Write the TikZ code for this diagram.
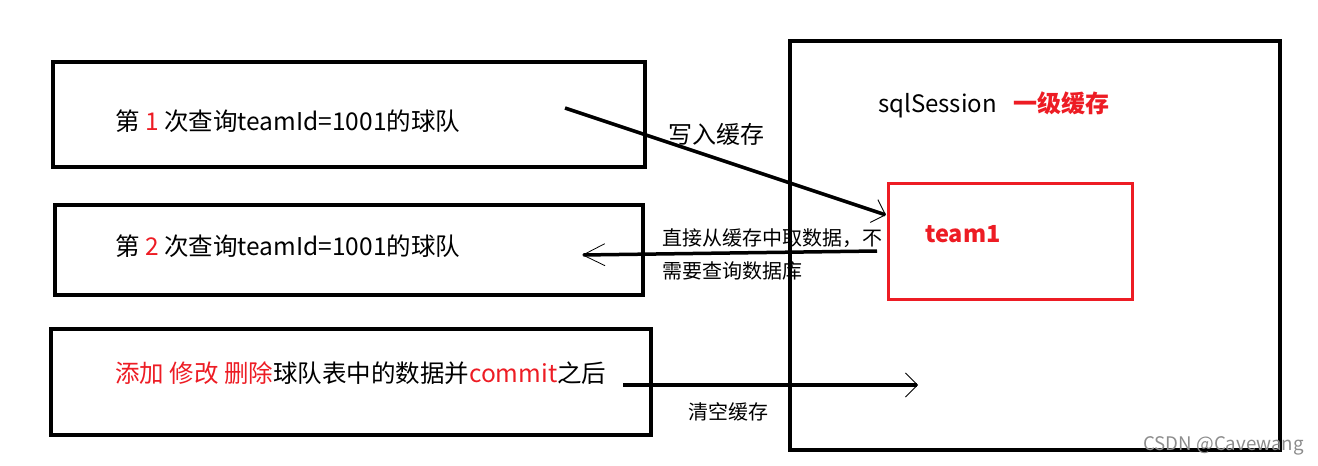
\documentclass[tikz,border=0pt]{standalone}
\usepackage{fontspec}
\setmainfont{Noto Sans CJK SC}
\usetikzlibrary{arrows.meta}
\definecolor{hotred}{HTML}{ED1C24}

\tikzset{
    box/.style={draw=black, line width=3.5pt, inner sep=0pt},
    cachebox/.style={draw=hotred, line width=3pt, inner sep=0pt},
    bigtext/.style={anchor=west, inner sep=0pt, font=\fontsize{24.5}{28}\selectfont},
    smalltext/.style={anchor=west, inner sep=0pt, font=\fontsize{20}{24}\selectfont},
    sketcharrow/.style={line width=3.5pt, -{Straight Barb[length=12pt, width=24pt, line width=0.8pt]}}
}

\begin{document}
\begin{tikzpicture}[x=1pt, y=-1pt]
    \useasboundingbox (0,0) rectangle (1318,466);

    % the three queries
    \node[box, minimum width=592pt, minimum height=105pt] (query1) at (349,114.5) {};
    \node[box, minimum width=588pt, minimum height=90pt] (query2) at (349,250) {};
    \node[box, minimum width=600pt, minimum height=106pt] (change) at (351,382) {};

    \node[bigtext] (q1text) at (115,121) {第 \textcolor{hotred}{1} 次查询teamId=1001的球队};
    \node[bigtext] (q2text) at (115,246) {第 \textcolor{hotred}{2} 次查询teamId=1001的球队};
    \node[bigtext] (chtext) at (115,373) {\textcolor{hotred}{添加 修改 删除}球队表中的数据并\textcolor{hotred}{commit}之后};

    % session and its cache
    \node[box, minimum width=490pt, minimum height=409pt] (session) at (1035,245.5) {};
    \node[cachebox, minimum width=244pt, minimum height=116pt] (team) at (1010,241) {};

    \node[bigtext, font=\fontsize{24}{28}\selectfont] (sesstext) at (878,105) {sqlSession\hspace{17pt}\textcolor{hotred}{\bfseries 一级缓存}};
    \node[bigtext, text=hotred, font=\fontsize{23.5}{27}\selectfont\bfseries] (teamtext) at (925,234) {team1};

    % connectors
    \coordinate (w1) at (565,108);
    \coordinate (w2) at (886,215);
    \coordinate (r1) at (877,251);
    \coordinate (r2) at (582,255);
    \coordinate (c1) at (623,385);
    \coordinate (c2) at (918,385);

    \draw[sketcharrow] (w1) -- (w2);
    \draw[sketcharrow, -{Straight Barb[length=22pt, width=22pt, line width=0.8pt]}] (r1) -- (r2);
    \draw[sketcharrow] (c1) -- (c2);

    \node[bigtext, font=\fontsize{24}{28}\selectfont] (writelabel) at (668,134) {写入缓存};
    \node[smalltext] (readlabel1) at (662,238) {直接从缓存中取数据，不};
    \node[smalltext] (readlabel2) at (662,271) {需要查询数据库};
    \node[smalltext] (clearlabel) at (688,412) {清空缓存};

    \node[anchor=west, inner sep=0pt, text=black!45, font=\fontsize{18.7}{22}\selectfont] (mark) at (1143,446) {CSDN @Cavewang};
\end{tikzpicture}
\end{document}
